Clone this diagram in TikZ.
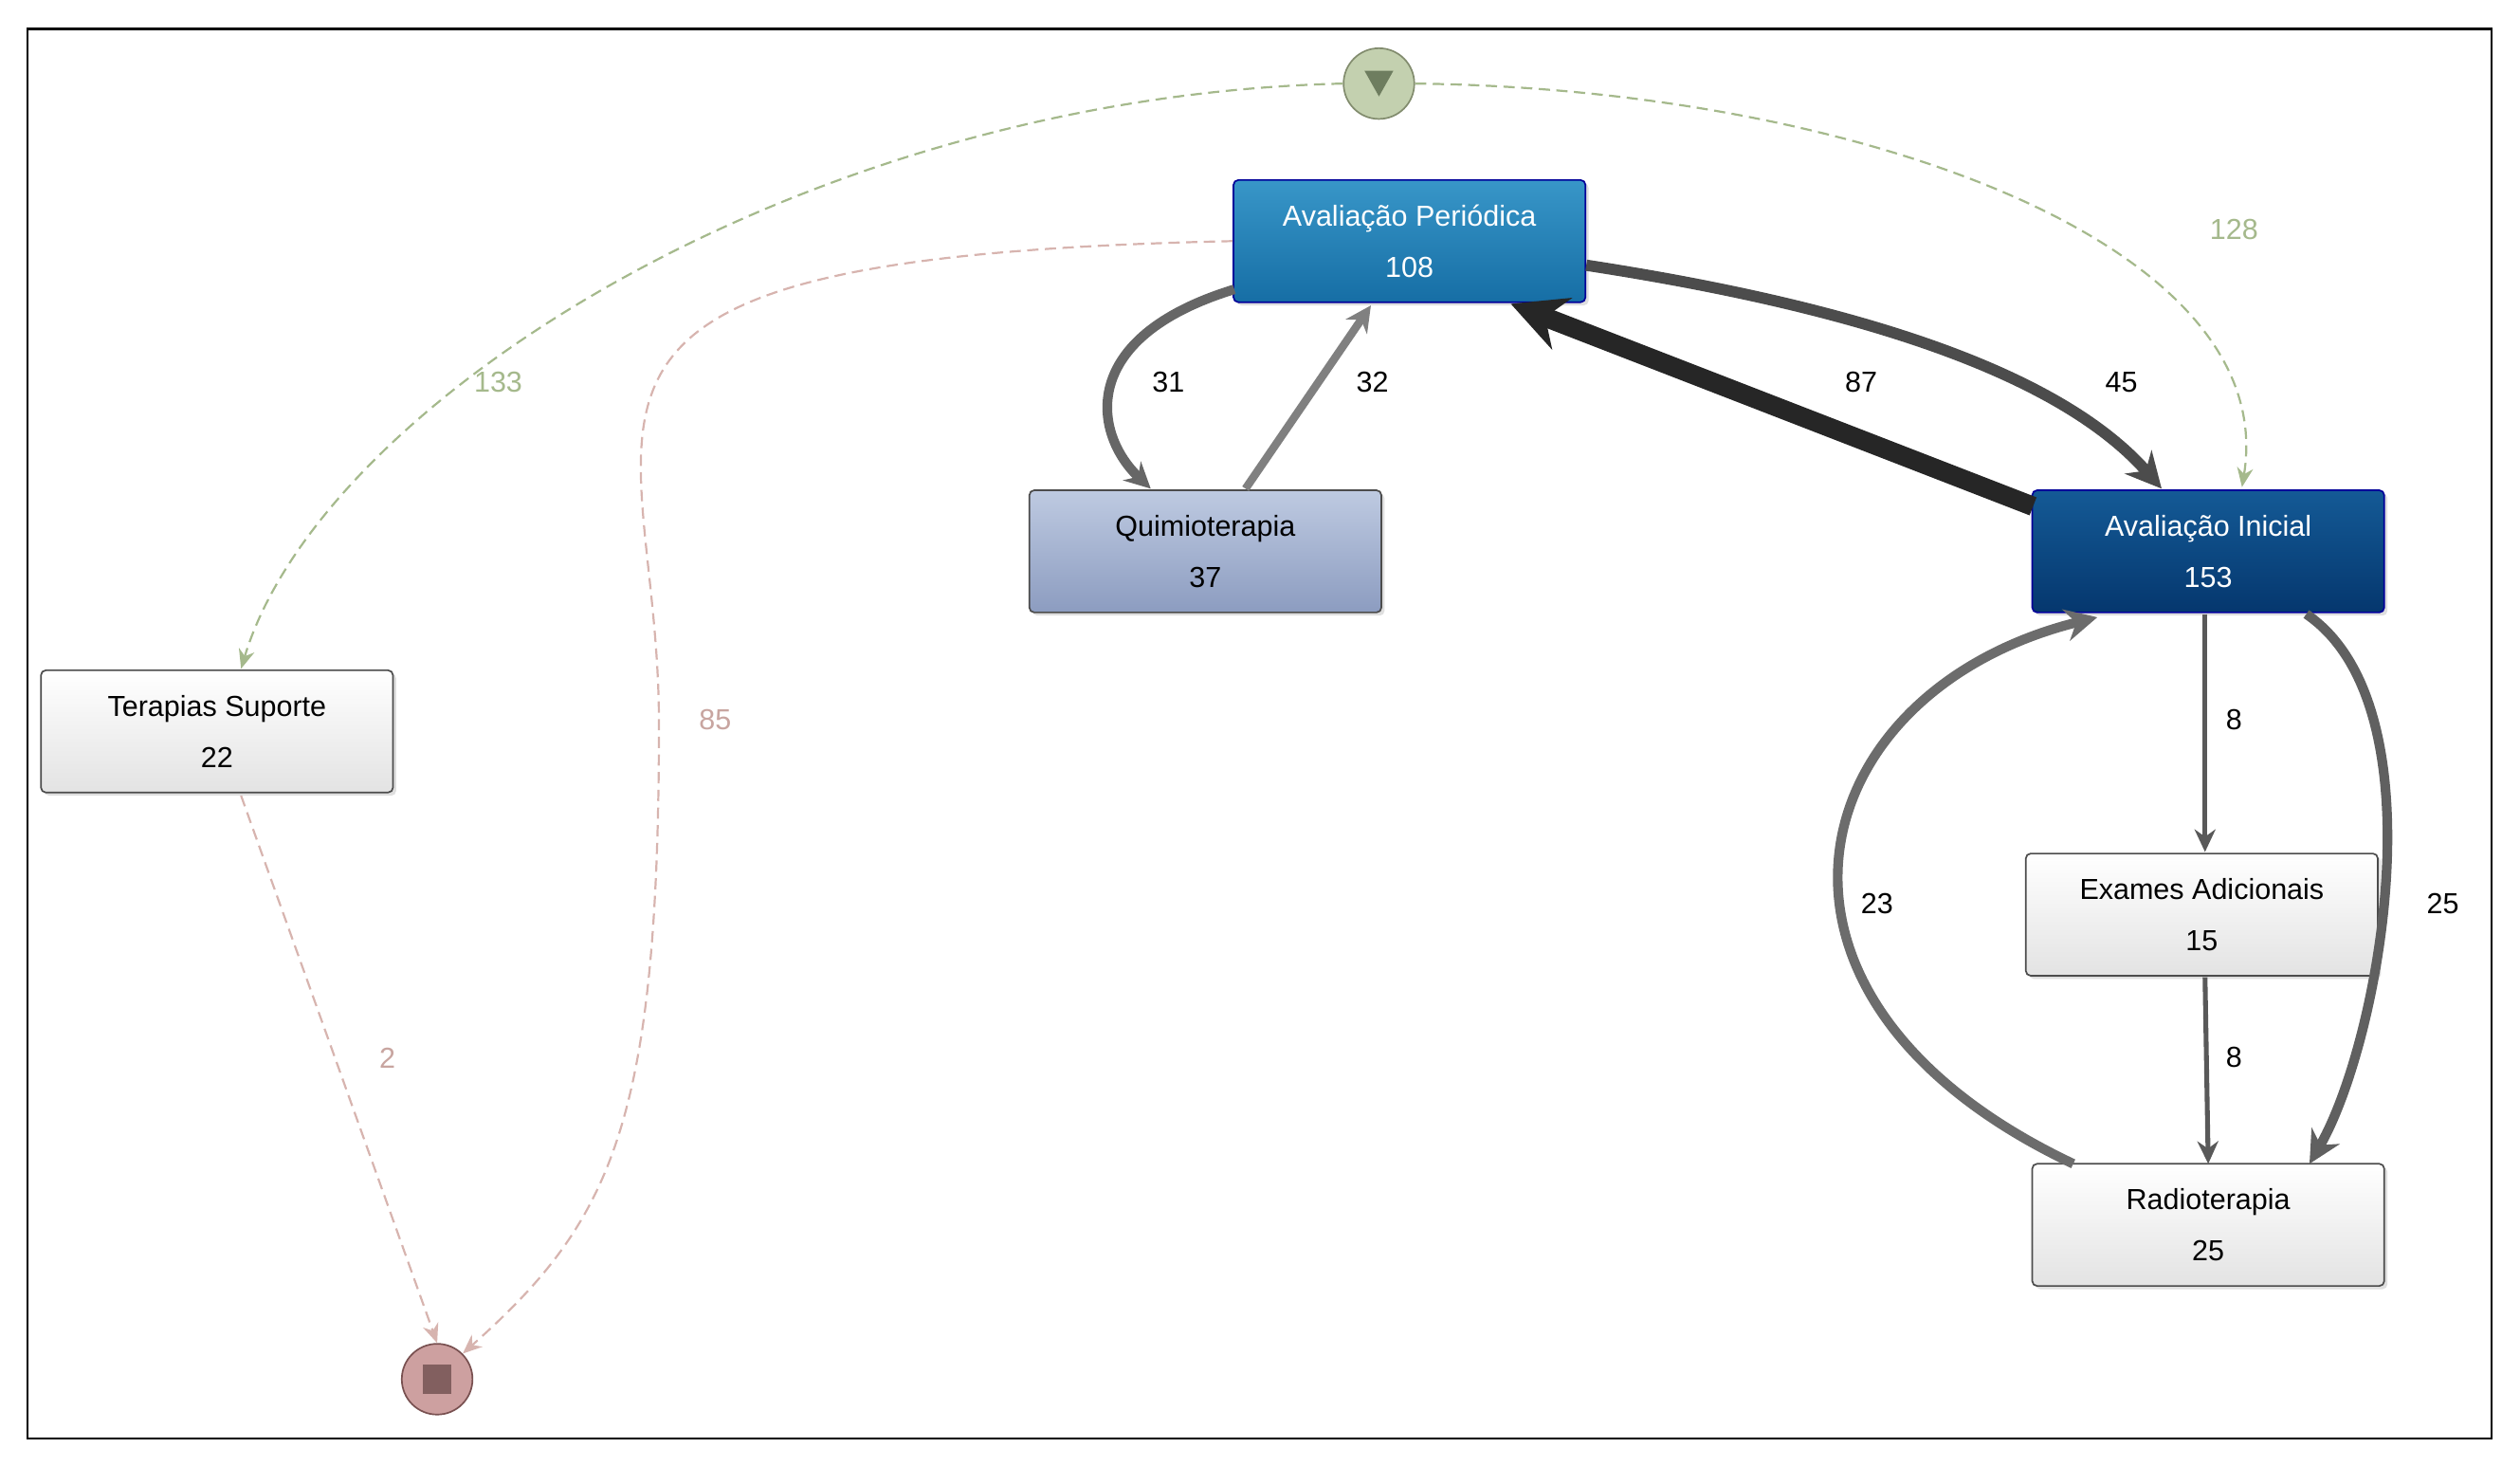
\documentclass[tikz,border=0pt]{standalone}
\usepackage{fontspec}
\setmainfont{Liberation Sans}
\usetikzlibrary{arrows.meta,shadows}
\definecolor{apT}{RGB}{56,150,200}
\definecolor{apB}{RGB}{22,110,165}
\definecolor{quT}{RGB}{190,202,225}
\definecolor{quB}{RGB}{140,156,192}
\definecolor{aiT}{RGB}{20,90,150}
\definecolor{aiB}{RGB}{5,55,110}
\definecolor{stD}{RGB}{130,140,110}
\definecolor{stF}{RGB}{195,208,175}
\definecolor{stI}{RGB}{110,125,95}
\definecolor{enD}{RGB}{120,80,80}
\definecolor{enF}{RGB}{205,160,160}
\definecolor{enI}{RGB}{130,95,95}
\definecolor{gdash}{RGB}{165,185,140}
\definecolor{pdash}{RGB}{215,180,175}
\definecolor{plab}{RGB}{200,165,160}
\begin{document}
\begin{tikzpicture}[x=1pt,y=-1pt,
 box/.style={draw=#1!60!black,rounded corners=3pt,minimum width=219pt,minimum height=76pt,align=center,font=\fontsize{18}{32}\selectfont,line width=1pt,drop shadow={opacity=0.25,shadow xshift=2pt,shadow yshift=-2pt}},
 light/.style={box=gray,top color=white,bottom color=gray!22},
 flow/.style={-{Stealth[length=16pt,width=16pt]},draw=#1},
 dsh/.style={dash pattern=on 7pt off 4pt,line width=1.3pt,draw=#1,-{Stealth[length=12pt,width=10pt]}},
 lab/.style={font=\fontsize{18}{20}\selectfont,text=#1}]
\useasboundingbox (0,0) rectangle (1568,912);
\draw[line width=1.2pt] (17,18) rectangle (1550,895);
% nodes
\node[box=blue,text=white,top color=apT,bottom color=apB] (ap) at (877,150) {Avaliação Periódica\\108};
\node[box=gray,top color=quT,bottom color=quB] (qu) at (750,343) {Quimioterapia\\37};
\node[box=blue,text=white,top color=aiT,bottom color=aiB] (ai) at (1374,343) {Avaliação Inicial\\153};
\node[light] (ts) at (135,455) {Terapias Suporte\\22};
\node[light] (ex) at (1370,569) {Exames Adicionais\\15};
\node[light] (ra) at (1374,762) {Radioterapia\\25};
\node[circle,minimum size=44pt,draw=stD,fill=stF,line width=1pt] (st) at (858,52) {};
\fill[stI] (849,44) -- (867,44) -- (858,60) -- cycle;
\node[circle,minimum size=44pt,draw=enD,fill=enF,line width=1pt] (en) at (272,858) {};
\fill[enI] (263,849) rectangle (281,867);
% dashed
\draw[dsh=gdash] (st.west) .. controls (500,60) and (200,250) .. (150,416);
\draw[dsh=gdash] (st.east) .. controls (1150,55) and (1420,150) .. (1395,303);
\draw[dsh=pdash] (ap.west) .. controls (300,160) and (410,250) .. (410,450) .. controls (410,700) and (380,760) .. (en.north east);
\draw[dsh=pdash] (150,495) -- (en.north);
\node[lab=gdash] at (310,238) {133};
\node[lab=gdash] at (1390,143) {128};
\node[lab=plab] at (445,448) {85};
\node[lab=plab] at (241,658) {2};
% flows
\draw[flow={gray!80!black},line width=6pt] (768,180) .. controls (670,210) and (680,270) .. (716,304);
\draw[flow={gray},line width=5pt] (775,304) -- (853,190);
\draw[draw=black!85,line width=12pt,-{Stealth[length=34pt,width=34pt]}] (1265,315) -- (940,189);
\draw[flow={gray!60!black},line width=7pt,-{Stealth[length=22pt,width=22pt]}] (987,165) .. controls (1150,190) and (1280,230) .. (1345,304);
\draw[flow={gray!70!black},line width=3pt,-{Stealth[length=14pt,width=13pt]}] (1372,382) -- (1372,530);
\draw[flow={gray!70!black},line width=3pt,-{Stealth[length=14pt,width=13pt]}] (1372,608) -- (1374,724);
\draw[flow={gray!75!black},line width=6pt,-{Stealth[length=20pt,width=20pt]}] (1435,382) .. controls (1520,440) and (1480,650) .. (1437,724);
\draw[flow={gray!85!black},line width=6pt,-{Stealth[length=20pt,width=20pt]}] (1290,724) .. controls (1070,620) and (1120,430) .. (1305,384);
\node[lab=black] at (727,238) {31};
\node[lab=black] at (854,238) {32};
\node[lab=black] at (1158,238) {87};
\node[lab=black] at (1320,238) {45};
\node[lab=black] at (1390,448) {8};
\node[lab=black] at (1390,658) {8};
\node[lab=black] at (1520,562) {25};
\node[lab=black] at (1168,562) {23};
\end{tikzpicture}
\end{document}
